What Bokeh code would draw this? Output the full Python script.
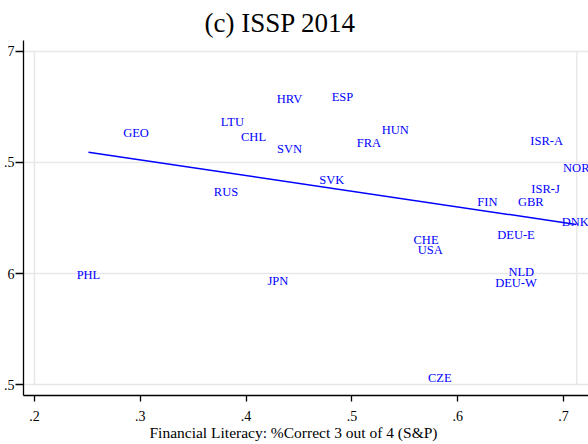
from bokeh.plotting import figure
from bokeh.models import Range1d, FixedTicker, ColumnDataSource, Title
from bokeh.core.properties import value
from bokeh.embed import file_html
from bokeh.resources import INLINE

# ---- data ----
countries = ["GEO", "LTU", "CHL", "HRV", "SVN", "RUS", "ESP", "HUN", "FRA", "SVK",
             "ISR-A", "NOR", "ISR-J", "FIN", "GBR", "DNK", "CHE", "USA", "DEU-E",
             "NLD", "DEU-W", "CZE", "PHL", "JPN"]
fin_lit = [0.296, 0.387, 0.407, 0.441, 0.441, 0.381, 0.491, 0.541, 0.516, 0.481,
           0.684, 0.712, 0.683, 0.628, 0.669, 0.711, 0.570, 0.574, 0.655,
           0.660, 0.655, 0.583, 0.251, 0.430]
outcome = [6.631, 6.682, 6.617, 6.788, 6.563, 6.369, 6.793, 6.646, 6.586, 6.419,
           6.599, 6.473, 6.381, 6.320, 6.320, 6.230, 6.153, 6.108, 6.173,
           6.009, 5.959, 5.529, 5.993, 5.966]
fit_x = [0.251, 0.712]
fit_y = [6.546, 6.221]
x_ticks = [0.2, 0.3, 0.4, 0.5, 0.6, 0.7]
x_tick_labels = [".2", ".3", ".4", ".5", ".6", ".7"]
y_ticks = [5.5, 6.0, 6.5, 7.0]
y_tick_labels = [".5", "6", ".5", "7"]
region_x = [0.2, 0.7125]
region_y = [5.5, 7.0]
x_title = "Financial Literacy: %Correct 3 out of 4 (S&P)"

serif = "Liberation Serif"

p = figure(width=588, height=444, output_backend="svg", toolbar_location=None,
           x_range=Range1d(0.18964, 0.72354), y_range=Range1d(5.4505, 7.0495),
           min_border_left=21, min_border_right=0, min_border_top=40,
           min_border_bottom=49)
p.background_fill_color = "white"
p.border_fill_color = "white"
p.outline_line_color = None

# title
p.title.text = "(c) ISSP 2014"
p.title.align = "left"
p.title.offset = 181
p.title.standoff = 5
p.title.text_font = serif
p.title.text_font_size = "27px"
p.title.text_font_style = "normal"
p.title.text_color = "black"

# grids
p.xgrid.visible = False
p.ygrid.ticker = FixedTicker(ticks=y_ticks)
p.ygrid.grid_line_color = "#e8e8e8"
p.ygrid.grid_line_width = 1.5

# plot-region border verticals
p.segment(x0=region_x, x1=region_x, y0=[region_y[0]] * 2, y1=[region_y[1]] * 2,
          line_color="#e8e8e8", line_width=1.5)

# axes
for ax in (p.xaxis[0], p.yaxis[0]):
    ax.axis_line_color = "black"
    ax.axis_line_width = 1.3
    ax.major_tick_line_color = "black"
    ax.major_tick_line_width = 1.3
    ax.major_tick_in = 0
    ax.minor_tick_line_color = None
    ax.major_label_text_font = serif
    ax.major_label_text_font_size = "14px"
    ax.major_label_text_color = "black"

p.xaxis.ticker = FixedTicker(ticks=x_ticks)
p.xaxis.major_label_overrides = dict(zip(x_ticks, x_tick_labels))
p.xaxis.major_tick_out = 6
p.xaxis.major_label_standoff = 9

p.yaxis.ticker = FixedTicker(ticks=y_ticks)
p.yaxis.major_label_overrides = dict(zip(y_ticks, y_tick_labels))
p.yaxis.major_label_orientation = "horizontal"
p.yaxis.major_tick_out = 8
p.yaxis.major_label_standoff = 1

# x-axis title (placed below the axis, offset to match the reference)
xt = Title(text=x_title, align="left", offset=126, standoff=-3,
           text_font=serif, text_font_size="15.5px", text_font_style="normal",
           text_color="black")
p.add_layout(xt, "below")

# fitted line
p.line(fit_x, fit_y, line_color="blue", line_width=1.5)

# country labels
src = ColumnDataSource(dict(x=fin_lit, y=outcome, name=countries))
p.text(x="x", y="y", text="name", source=src, text_align="center",
       text_baseline="middle", text_font=value(serif), text_font_size="12.5px",
       text_color="blue")

open("out.html", "w").write(file_html(p, INLINE))
